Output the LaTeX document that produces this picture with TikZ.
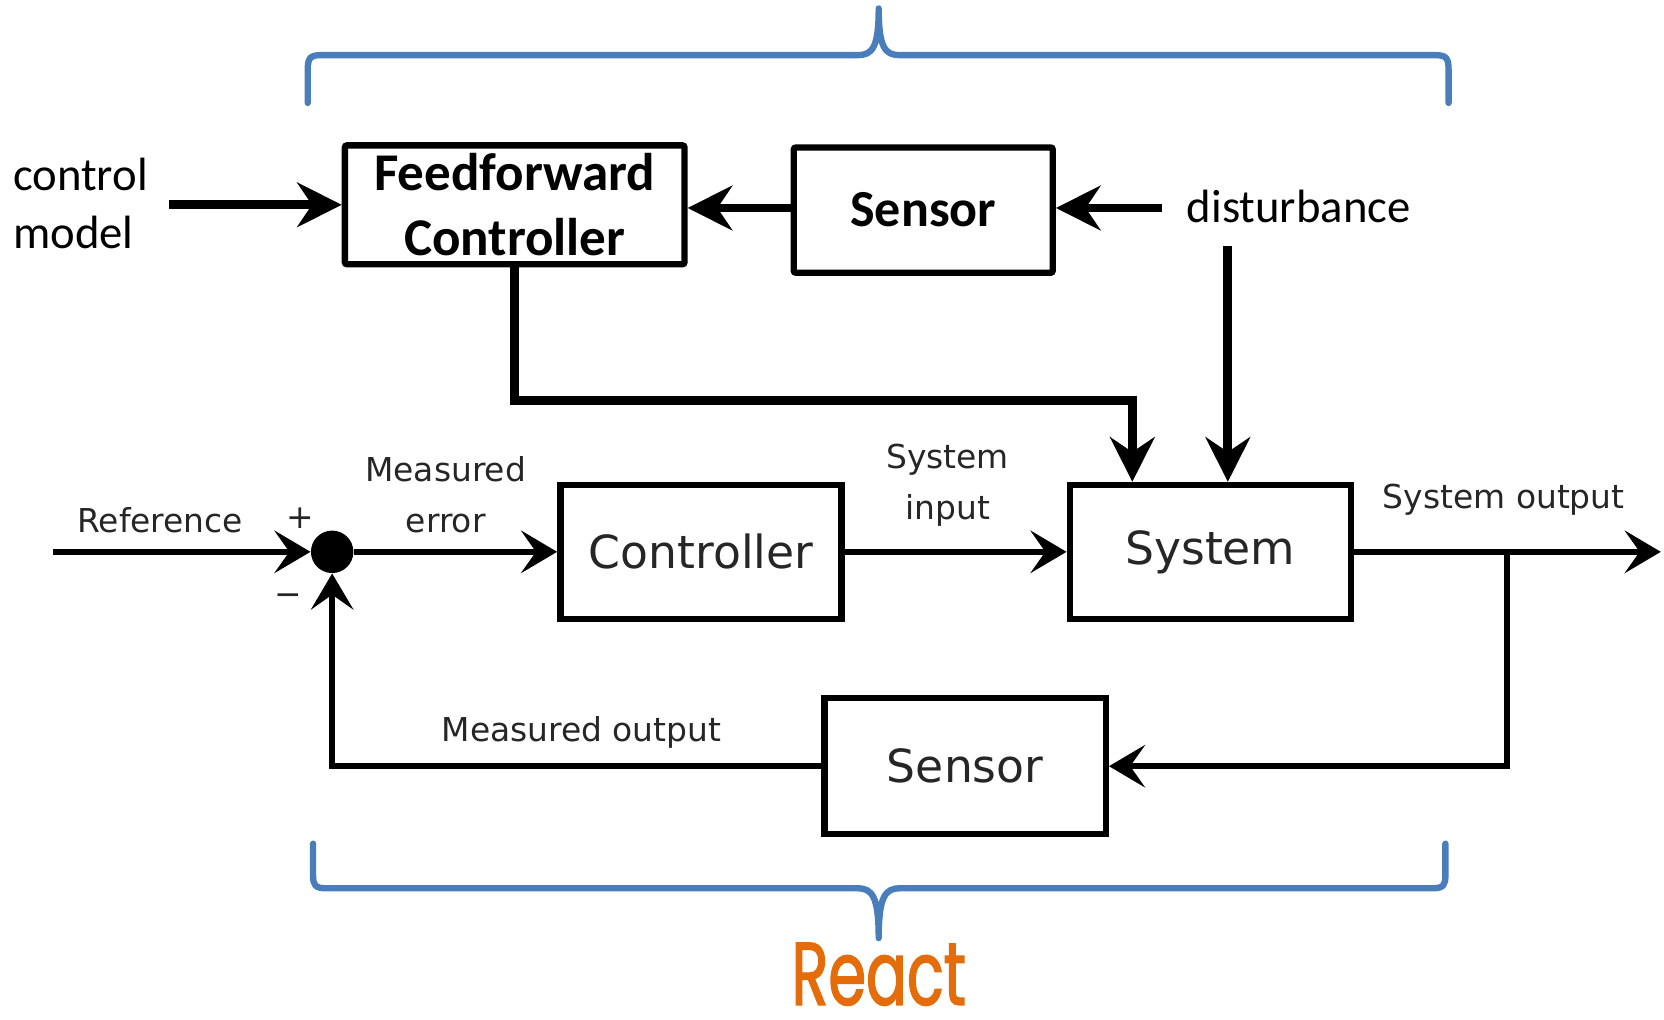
\documentclass[tikz,border=0pt]{standalone}
\usepackage{fontspec}
\setmainfont{Carlito}
\newfontfamily\dejavu{DejaVu Sans}
\newfontfamily\reactfont[FakeStretch=0.68,FakeBold=1.5]{Poppins}
\usepackage{tikz}
\usetikzlibrary{arrows.meta}
\definecolor{braceblue}{RGB}{74,126,187}
\definecolor{reactorange}{RGB}{228,108,10}

\begin{document}
\begin{tikzpicture}[x=0.5pt,y=0.5pt,yscale=-1,
    topbox/.style={draw,line width=3pt,rounded corners=1pt,inner sep=0pt,align=center,font=\bfseries\fontsize{25}{30.5}\selectfont},
    botbox/.style={draw,line width=3pt,inner sep=0pt,minimum width=132.5pt,minimum height=63pt,text=black!85,font=\dejavu\fontsize{21.5}{26}\selectfont},
    toplabel/.style={inner sep=0pt,align=left,font=\fontsize{22}{27.5}\selectfont},
    botlabel/.style={inner sep=0pt,align=center,text=black!85,font=\dejavu\fontsize{15.5}{24}\selectfont},
    toparrow/.style={line width=4.2pt,-{Stealth[length=21pt,width=21pt,inset=7pt]}},
    botarrow/.style={line width=2.8pt,-{Stealth[length=17pt,width=20pt,inset=7pt]}},
    bracestyle/.style={draw=braceblue,line width=3pt,line cap=round,line join=round}]
        \useasboundingbox (0,0) rectangle (1568,961);
        % upper part
        \node[topbox,minimum width=160pt,minimum height=56pt] (ff) at (485,193) {Feedforward\\Controller};
        \node[topbox,minimum width=122pt,minimum height=59pt] (sensTop) at (870,198) {\fontsize{24.5}{29}\selectfont Sensor};
        \node[toplabel,anchor=west] (cm) at (12,192) {control\\model};
        \node[toplabel,anchor=west] (dist) at (1118,195) {disturbance};
        \coordinate (dtap) at (1157,232);
        \coordinate (ffin) at (1067,377);
        % lower part
        \node[circle,fill=black,inner sep=0pt,minimum size=20pt] (sum) at (313,520) {};
        \node[botbox] (ctrl) at (660.5,520) {Controller};
        \node[botbox] (sys) at (1140.5,520) {System};
        \node[botbox,minimum height=64pt] (sensBot) at (909.5,722) {Sensor};
        \coordinate (refin) at (50,520);
        \coordinate (out) at (1565,520);
        \coordinate (br) at (1420,520);
        \node[botlabel] (lref) at (151,490) {Reference};
        \node[botlabel] (lplus) at (283,488) {+};
        \node[botlabel] (lminus) at (272,565) {−};
        \node[botlabel] (lerr) at (420,466) {Measured\\error};
        \node[botlabel] (lin) at (893,457) {System\\input};
        \node[botlabel] (lout) at (1417,471) {System output};
        \node[botlabel] (lmeas) at (548,690) {Measured output};
        % connectors
        \draw[toparrow] ([xshift=10]cm.east |- ff.west) -- (ff.west);
        \draw[toparrow] (sensTop.west |- 0,196) -- (ff.east |- 0,196);
        \draw[toparrow] ([xshift=-11.5]dist.west |- 0,196) -- (sensTop.east |- 0,196);
        \draw[toparrow] (dtap) -- (dtap |- sys.north);
        \draw[line width=4.2pt] (ff.south) |- (ffin);
        \draw[toparrow] ([yshift=-2.1]ffin) -- (ffin |- sys.north);
        \draw[botarrow] (refin) -- (sum.west);
        \draw[botarrow] (sum.east) -- (ctrl.west);
        \draw[botarrow] (ctrl.east) -- (sys.west);
        \draw[botarrow] (sys.east) -- (out);
        \draw[botarrow] (br) |- (sensBot.east);
        \draw[botarrow] (sensBot.west) -| (sum.south);
        % braces
        \draw[bracestyle] (290,97) -- (290,66) .. controls (290,55) and (292,52) .. (302,52) -- (808,52) .. controls (822,52) and (828,45) .. (828,8) .. controls (828,45) and (834,52) .. (848,52) -- (1353,52) .. controls (1363,52) and (1365,55) .. (1365,66) -- (1365,97);
        \draw[bracestyle] (295,795) -- (295,825) .. controls (295,834) and (297,837) .. (307,837) -- (808,837) .. controls (822,837) and (828,845) .. (828,884) .. controls (828,845) and (834,837) .. (848,837) -- (1350,837) .. controls (1360,837) and (1362,834) .. (1362,825) -- (1362,795);
        \node[text=reactorange,inner sep=0pt,font=\reactfont\fontsize{42}{48}\selectfont] (react) at (828,918) {React};
\end{tikzpicture}
\end{document}
